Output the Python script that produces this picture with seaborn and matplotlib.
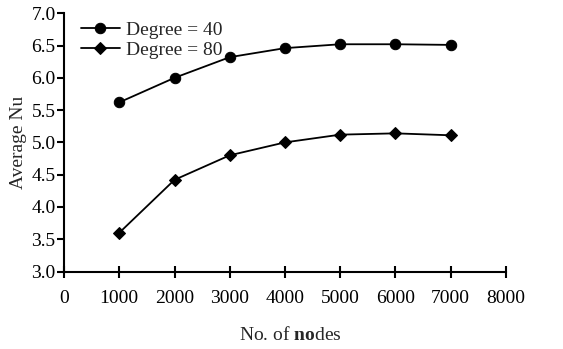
import matplotlib
matplotlib.use("Agg")
import matplotlib.pyplot as plt
import seaborn as sns
import pandas as pd

nodes = [1000, 2000, 3000, 4000, 5000, 6000, 7000]
nu_deg40 = [5.62, 6.00, 6.32, 6.46, 6.52, 6.52, 6.51]
nu_deg80 = [3.60, 4.42, 4.80, 5.00, 5.12, 5.14, 5.11]
series_names = ["Degree = 40", "Degree = 80"]

df = pd.DataFrame({
    "nodes": nodes * 2,
    "nu": nu_deg40 + nu_deg80,
    "series": [series_names[0]] * len(nodes) + [series_names[1]] * len(nodes),
})

sns.set_theme(style="ticks")
plt.rcParams["font.family"] = ["Liberation Serif", "DejaVu Serif"]
plt.rcParams["mathtext.fontset"] = "custom"
plt.rcParams["mathtext.rm"] = "Liberation Serif"
plt.rcParams["mathtext.bf"] = "Liberation Serif:bold"

fig = plt.figure(figsize=(5.63, 3.49), dpi=100)
ax = fig.add_axes([0.1137, 0.222, 0.785, 0.74])

sns.lineplot(data=df, x="nodes", y="nu", hue="series", style="series",
             markers={series_names[0]: "o", series_names[1]: "D"},
             dashes=False, palette=["black", "black"],
             markersize=7.5, linewidth=1.3, markeredgecolor="black",
             ax=ax, legend=True)
# diamonds are drawn a little smaller than the circles
for line in ax.get_lines():
    if line.get_marker() == "D":
        line.set_markersize(6)

ax.set_xlim(0, 8000)
ax.set_ylim(3.0, 7.0)
ax.set_xticks(range(0, 8001, 1000))
ax.set_yticks([3.0 + 0.5 * i for i in range(9)])
ax.set_yticklabels([f"{3.0 + 0.5 * i:.1f}" for i in range(9)])
ax.tick_params(axis="y", direction="out", length=5, width=1.5, labelsize=14, pad=1, colors="black")
ax.tick_params(axis="x", direction="inout", length=8, width=1.5, labelsize=14, pad=9, colors="black")
for s in ["top", "right"]:
    ax.spines[s].set_visible(False)
for s in ["left", "bottom"]:
    ax.spines[s].set_linewidth(1.5)
    ax.spines[s].set_color("black")

ax.set_xlabel("")
ax.set_ylabel("Average Nu", fontsize=14, labelpad=3)

# x-axis title, with part of the word in bold
fig.text(0.515, 0.04, r"No. of $\mathbf{no}$des", ha="center", va="center", fontsize=14)

leg = ax.legend(loc="upper left", frameon=False, fontsize=14, handlelength=2.0,
                handletextpad=0.35, labelspacing=0.15, borderaxespad=0.0,
                bbox_to_anchor=(0.02, 1.0))
for h in leg.legend_handles:
    h.set_color("black")

fig.savefig("out.png", dpi=100)
